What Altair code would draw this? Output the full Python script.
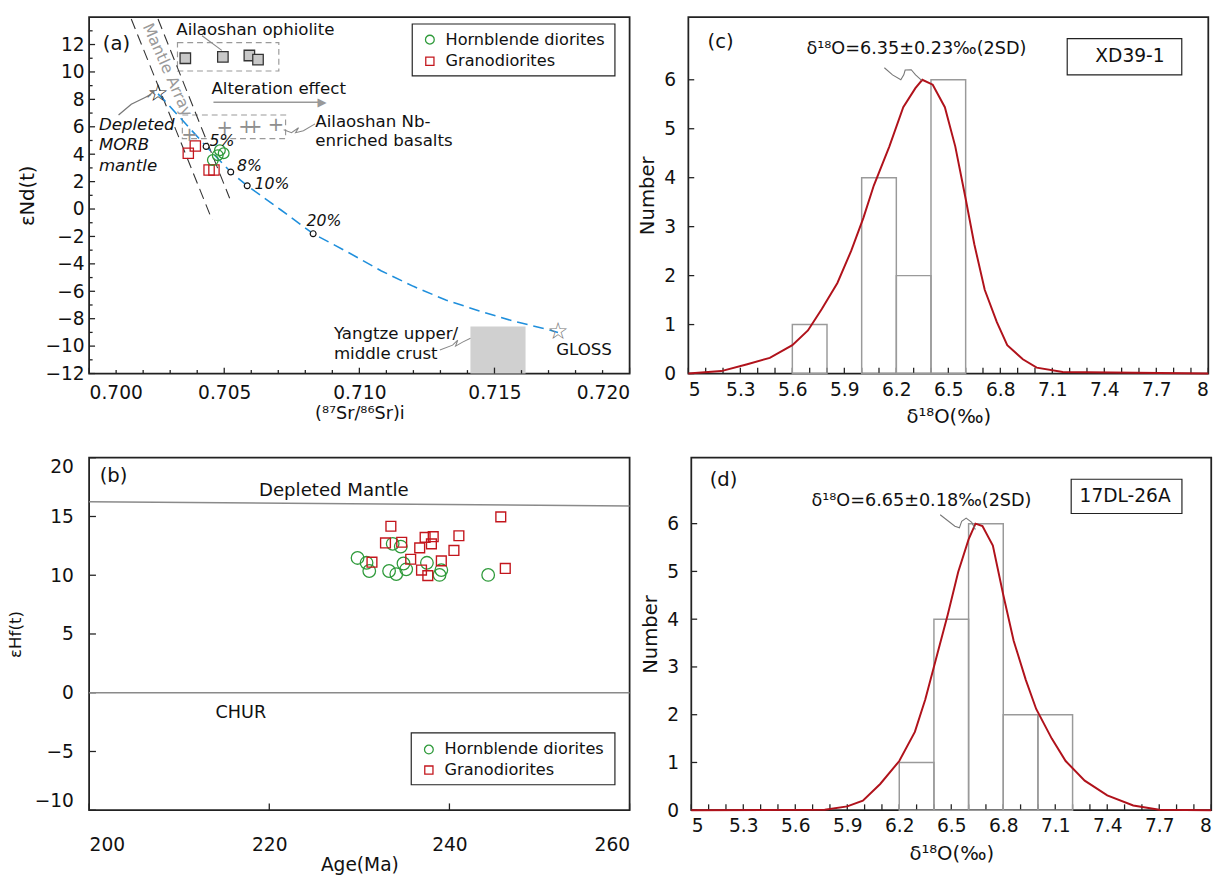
import altair as alt
import pandas as pd

FONT = "DejaVu Sans"
RED = "#c3161d"
GREEN = "#2e9a3a"
CURVE_RED = "#b0121b"
BLUE = "#1f8fdc"
GREY = "#8f8f8f"
INK = "#111111"

# ---------------- Panel (a): (87Sr/86Sr)i vs eNd(t) ----------------
a_xmajor = [0.700, 0.705, 0.710, 0.715, 0.720]
a_xminor = [0.701, 0.702, 0.703, 0.704, 0.706, 0.707, 0.708, 0.709, 0.711, 0.712, 0.713,
            0.714, 0.716, 0.717, 0.718, 0.719]
a_ymajor = [-12, -10, -8, -6, -4, -2, 0, 2, 4, 6, 8, 10, 12]
a_yminor = [-11, -9, -7, -5, -3, -1, 1, 3, 5, 7, 9, 11, 13]
a_oph_x = [0.70356, 0.70495, 0.70593, 0.70625]
a_oph_y = [11.0, 11.1, 11.2, 10.9]
a_nb_x = [0.70371, 0.70502, 0.70582, 0.70611, 0.70691]
a_nb_y = [5.4, 5.9, 6.0, 6.0, 6.1]
a_gd_x = [0.70367, 0.70393, 0.70444, 0.70462]
a_gd_y = [4.07, 4.6, 2.85, 2.85]
a_hd_x = [0.70458, 0.70476, 0.70498, 0.70484]
a_hd_y = [3.57, 3.93, 4.07, 4.29]
a_mix_x = [0.70255, 0.70280, 0.70433, 0.70524, 0.70585, 0.70710, 0.70829, 0.70957,
           0.71080, 0.71200, 0.71320, 0.71444, 0.71564, 0.71710, 0.71735]
a_mix_y = [8.4, 7.9, 4.57, 2.70, 1.70, -0.07, -1.80, -3.14, -4.50, -5.64, -6.64,
           -7.43, -8.14, -8.86, -9.0]
a_mark_x = [0.70433, 0.70524, 0.70585, 0.70829]
a_mark_y = [4.57, 2.70, 1.70, -1.80]
a_dmm_x, a_dmm_y = [0.70255], [8.4]
a_gloss_x, a_gloss_y = [0.71735], [-9.0]
a_ml_x = [0.70156, 0.70455]
a_ml_y = [13.86, -0.79]
a_mr_x = [0.70255, 0.70520]
a_mr_y = [13.86, 0.79]
a_crust_x = [0.71411, 0.71615]
a_crust_y = [-8.57, -12.0]
a_ell_x1 = [0.70327, 0.70345]
a_ell_x2 = [0.70702, 0.70727]
a_ell_y1 = [12.14, 6.86]
a_ell_y2 = [10.07, 5.14]
a_dmm_arrow_x = [0.70109, 0.70156, 0.70207, 0.70229]
a_dmm_arrow_y = [6.86, 7.64, 8.14, 8.36]
a_oph_lead_x = [0.70418, 0.70491]
a_oph_lead_y = [12.64, 11.57]
a_nb_lead_x = [0.70720, 0.70749, 0.70775, 0.70764, 0.70793, 0.70836]
a_nb_lead_y = [5.786, 5.571, 5.929, 5.571, 5.714, 6.214]
a_yz_lead_x = [0.71298, 0.71345, 0.71364, 0.71356, 0.71382, 0.71411]
a_yz_lead_y = [-10.29, -9.93, -9.57, -10.0, -9.71, -9.43]
a_alt_x, a_alt_x2, a_alt_y = 0.704601, 0.708500, 7.786
a_lbl_t = ["Ailaoshan ophiolite", "Alteration effect", "Ailaoshan Nb-", "enriched basalts",
           "Yangtze upper/", "middle crust", "GLOSS"]
a_lbl_x = [0.703225, 0.704529, 0.708370, 0.708370, 0.709058, 0.709058, 0.717283]
a_lbl_y = [13.07, 8.714, 6.357, 4.929, -9.143, -10.571, -10.286]
a_it_t = ["Depleted", "MORB", "mantle"]
a_it_x = [0.700362, 0.700362, 0.700362]
a_it_y = [6.143, 4.643, 3.143]
a_pct_t = ["5%", "8%", "10%", "20%"]
a_pct_x = [0.704457, 0.705471, 0.706123, 0.708043]
a_pct_y = [4.929, 3.143, 1.786, -0.857]

# ---------------- Panel (b): Age vs eHf(t) ----------------
b_xticks = [200, 220, 240, 260]
b_yticks = [-10, -5, 0, 5, 10, 15, 20]
b_hd_age = [229.8, 230.8, 231.1, 233.3, 234.1, 233.7, 234.6, 234.9, 235.2, 237.5, 239.1, 238.9, 244.3]
b_hd_ehf = [11.47, 11.06, 10.36, 10.36, 10.10, 12.67, 12.44, 11.00, 10.50, 11.06, 10.44, 10.03, 10.03]
b_gd_age = [233.5, 245.7, 232.9, 234.7, 237.3, 238.2, 238.0, 236.7, 241.05, 240.5,
            231.4, 235.7, 239.1, 236.9, 237.6, 246.2]
b_gd_ehf = [14.17, 14.97, 12.75, 12.81, 13.22, 13.28, 12.67, 12.33, 13.36, 12.11,
            11.11, 11.36, 11.22, 10.44, 9.97, 10.58]
b_dm_age = [200, 260]
b_dm_ehf = [16.25, 15.9]
b_chur_age = [200, 260]
b_chur_ehf = [0, 0]

# ---------------- Panels (c), (d): d18O histograms ----------------
o_xlabels = [5.0, 5.3, 5.6, 5.9, 6.2, 6.5, 6.8, 7.1, 7.4, 7.7, 8.0]
o_xticks = [round(5 + 0.1 * i, 1) for i in range(31)]
o_yticks = [0, 1, 2, 3, 4, 5, 6]
c_bin_lo = [5.6, 6.0, 6.2, 6.4]
c_bin_hi = [5.8, 6.2, 6.4, 6.6]
c_count = [1, 4, 2, 6]
c_curve_x = [5.0, 5.19, 5.34, 5.47, 5.60, 5.69, 5.77, 5.86, 5.94, 6.01, 6.07, 6.16, 6.24,
             6.31, 6.35, 6.41, 6.48, 6.54, 6.60, 6.65, 6.71, 6.78, 6.84, 6.93, 7.01, 7.16, 8.0]
c_curve_y = [0.0, 0.05, 0.19, 0.32, 0.58, 0.88, 1.32, 1.85, 2.51, 3.18, 3.84, 4.64, 5.44,
             5.83, 6.0, 5.9, 5.44, 4.64, 3.57, 2.64, 1.71, 1.05, 0.58, 0.29, 0.12, 0.03, 0.0]
c_lead_x = [6.131, 6.178, 6.226, 6.243, 6.251, 6.286, 6.311, 6.346]
c_lead_y = [6.246, 6.100, 6.000, 6.100, 6.199, 6.206, 6.100, 5.987]

d_bin_lo = [6.2, 6.4, 6.6, 6.8, 7.0]
d_bin_hi = [6.4, 6.6, 6.8, 7.0, 7.2]
d_count = [1, 4, 6, 2, 2]
d_curve_x = [5.0, 5.77, 5.90, 5.99, 6.09, 6.20, 6.29, 6.35, 6.41, 6.48, 6.54, 6.60, 6.64,
             6.68, 6.74, 6.80, 6.86, 6.93, 6.99, 7.08, 7.16, 7.27, 7.40, 7.55, 7.70, 8.0]
d_curve_y = [0.0, 0.01, 0.08, 0.20, 0.55, 1.03, 1.64, 2.32, 3.14, 4.10, 4.99, 5.67, 6.0,
             5.95, 5.54, 4.51, 3.55, 2.73, 2.12, 1.50, 1.03, 0.62, 0.31, 0.10, 0.01, 0.0]
d_lead_x = [6.436, 6.521, 6.547, 6.560, 6.586, 6.618, 6.639]
d_lead_y = [6.186, 5.947, 5.913, 6.049, 6.117, 6.029, 5.879]

LEGEND_T = ["Hornblende diorites", "Granodiorites"]


# ---------------- helpers ----------------
def rule_layer(X, Y, segs):
    df = pd.DataFrame(segs, columns=["x", "x2", "y", "y2", "c", "w"])
    return alt.Chart(df).mark_rule().encode(
        x=X, x2="x2:Q", y=Y, y2="y2:Q",
        stroke=alt.Stroke("c:N", scale=None), strokeWidth=alt.StrokeWidth("w:Q", scale=None))


def ticks_x(vals, y0, y1, w=1.3):
    return [(v, v, y0, y1, "#222", w) for v in vals]


def ticks_y(vals, x0, x1, w=1.3):
    return [(x0, x1, v, v, "#222", w) for v in vals]


def line_layer(X, Y, series, dash=None):
    rows = []
    for g, (xs, ys, c, w) in enumerate(series):
        for i, (a, b) in enumerate(zip(xs, ys)):
            rows.append((g, i, a, b, c, w))
    df = pd.DataFrame(rows, columns=["g", "i", "x", "y", "c", "w"])
    kw = {} if dash is None else {"strokeDash": dash}
    return alt.Chart(df).mark_line(**kw).encode(
        x=X, y=Y, detail="g:N", order="i:Q",
        stroke=alt.Stroke("c:N", scale=None), strokeWidth=alt.StrokeWidth("w:Q", scale=None))


def point_layer(X, Y, groups):
    rows = []
    for xs, ys, shp, sz, fl, st, w in groups:
        for a, b in zip(xs, ys):
            rows.append((a, b, shp, sz, fl, st, w))
    df = pd.DataFrame(rows, columns=["x", "y", "shp", "sz", "fl", "st", "w"])
    return alt.Chart(df).mark_point(filled=False, opacity=1).encode(
        x=X, y=Y, shape=alt.Shape("shp:N", scale=None), size=alt.Size("sz:Q", scale=None),
        fill=alt.Fill("fl:N", scale=None), stroke=alt.Stroke("st:N", scale=None),
        strokeWidth=alt.StrokeWidth("w:Q", scale=None))


def text_layer(X, Y, items, align="left", style="normal"):
    df = pd.DataFrame(items, columns=["x", "y", "t", "sz", "c"])
    return alt.Chart(df).mark_text(font=FONT, align=align, baseline="middle",
                                   fontStyle=style).encode(
        x=X, y=Y, text="t:N", size=alt.Size("sz:Q", scale=None),
        color=alt.Color("c:N", scale=None))


def rect_layer(X, Y, x1, x2, y1, y2, **kw):
    df = pd.DataFrame({"x": x1, "x2": x2, "y": y1, "y2": y2})
    return alt.Chart(df).mark_rect(**kw).encode(x=X, x2="x2:Q", y=Y, y2="y2:Q")


LBL = dict(labelFont=FONT, labelFontSize=19, labelColor=INK, titleFont=FONT,
           titleColor=INK, titleFontWeight="normal", domain=False, grid=False, ticks=False)
BOX = dict(fill="white", stroke="#222", strokeWidth=1.2)

# ---------- (a) ----------
xa = alt.X("x:Q", scale=alt.Scale(domain=[0.700, 0.720], nice=False, zero=False),
           axis=alt.Axis(values=a_xmajor, title="(⁸⁷Sr/⁸⁶Sr)i", titleFontSize=18, format=".3f",
                         labelPadding=11, labelFlush=True, titlePadding=2, **LBL))
ya = alt.Y("y:Q", scale=alt.Scale(domain=[-12, 14], nice=False, zero=False),
           axis=alt.Axis(values=a_ymajor, title="εNd(t)", titleFontSize=20, format="d",
                         labelPadding=5, titlePadding=8, **LBL))

a_rules = (ticks_x(a_xmajor, -12, -11.57) + ticks_x(a_xminor, -12, -11.75)
           + ticks_y(a_ymajor, 0.700, 0.70022) + ticks_y(a_yminor, 0.700, 0.70013)
           + [(a_alt_x, a_alt_x2, a_alt_y, a_alt_y, "#999999", 1.5)])
a_points = [
    (a_mark_x, a_mark_y, "circle", 36, "white", INK, 1.2),
    (a_oph_x, a_oph_y, "square", 115, "#c8c8c8", "#333333", 1.3),
    (a_gd_x, a_gd_y, "square", 110, "transparent", RED, 1.3),
    (a_hd_x, a_hd_y, "circle", 120, "transparent", GREEN, 1.3),
    ([0.712609], [12.357], "circle", 80, "transparent", GREEN, 1.3),
    ([0.712609], [10.786], "square", 70, "transparent", RED, 1.3),
]
a_text_left = ([(x, y, t, 17, INK) for x, y, t in zip(a_lbl_x, a_lbl_y, a_lbl_t)]
               + [(0.713188, 12.357, LEGEND_T[0], 16.5, INK),
                  (0.713188, 10.786, LEGEND_T[1], 16.5, INK)])
a_text_center = ([(0.701014, 12.0, "(a)", 20, INK),
                  (a_dmm_x[0], a_dmm_y[0], "☆", 24, "#222222"),
                  (a_gloss_x[0], a_gloss_y[0], "☆", 24, "#777777"),
                  (a_alt_x2 + 0.00012, a_alt_y, "▶", 12, "#999999"),
                  (a_dmm_arrow_x[-1], a_dmm_arrow_y[-1], "➚", 14, "#777777")]
                 + [(x, y, "+", 20, GREY) for x, y in zip(a_nb_x, a_nb_y)])
a_text_italic = ([(x, y, t, 17, INK) for x, y, t in zip(a_it_x, a_it_y, a_it_t)]
                 + [(x, y, t, 16, INK) for x, y, t in zip(a_pct_x, a_pct_y, a_pct_t)])

panel_a = alt.layer(
    rect_layer(xa, ya, [a_crust_x[0]], [a_crust_x[1]], [a_crust_y[0]], [a_crust_y[1]],
               color="#d0d0d0"),
    rect_layer(xa, ya, a_ell_x1, a_ell_x2, a_ell_y1, a_ell_y2,
               fill="transparent", stroke="#9a9a9a", strokeDash=[6, 4], strokeWidth=1.2),
    rect_layer(xa, ya, [0.711957], [0.719457], [13.5], [9.714], **BOX),
    rule_layer(xa, ya, a_rules),
    line_layer(xa, ya, [(a_ml_x, a_ml_y, "#333333", 1.1), (a_mr_x, a_mr_y, "#333333", 1.1),
                        (a_mix_x, a_mix_y, BLUE, 1.6)], dash=[11, 6]),
    line_layer(xa, ya, [(a_dmm_arrow_x, a_dmm_arrow_y, "#777777", 1.3),
                        (a_oph_lead_x, a_oph_lead_y, "#888888", 1.1),
                        (a_nb_lead_x, a_nb_lead_y, "#888888", 1.1),
                        (a_yz_lead_x, a_yz_lead_y, "#888888", 1.1)]),
    point_layer(xa, ya, a_points),
    text_layer(xa, ya, a_text_left),
    text_layer(xa, ya, a_text_center, align="center"),
    text_layer(xa, ya, a_text_italic, style="italic"),
    alt.Chart(pd.DataFrame({"x": [0.702899], "y": [10.143], "t": ["Mantle Array"]}))
    .mark_text(font=FONT, fontSize=16, color="#999999", align="center", baseline="middle",
               angle=66).encode(x=xa, y=ya, text="t:N"),
).properties(width=552, height=364)

# ---------- (b) ----------
xb = alt.X("x:Q", scale=alt.Scale(domain=[200, 260], nice=False, zero=False),
           axis=alt.Axis(values=b_xticks, title="Age(Ma)", titleFontSize=19, format="d",
                         labelPadding=26, labelFlush=True, titlePadding=2, **LBL))
yb = alt.Y("y:Q", scale=alt.Scale(domain=[-10, 20], nice=False, zero=False),
           axis=alt.Axis(values=b_yticks, title="εHf(t)", titleFontSize=17, format="d",
                         labelPadding=16, labelFlush=True, titlePadding=10, **LBL))
panel_b = alt.layer(
    rect_layer(xb, yb, [235.761], [258.370], [-3.417], [-7.833], **BOX),
    rule_layer(xb, yb, ticks_x(b_xticks, -10, -9.42) + ticks_y(b_yticks, 200, 200.76)),
    line_layer(xb, yb, [(b_dm_age, b_dm_ehf, "#8a8a8a", 1.6),
                        (b_chur_age, b_chur_ehf, "#8a8a8a", 1.6)]),
    point_layer(xb, yb, [
        (b_hd_age, b_hd_ehf, "circle", 165, "transparent", GREEN, 1.3),
        (b_gd_age, b_gd_ehf, "square", 100, "transparent", RED, 1.4),
        ([237.717], [-4.833], "circle", 80, "transparent", GREEN, 1.3),
        ([237.717], [-6.583], "square", 70, "transparent", RED, 1.3),
    ]),
    text_layer(xb, yb, [(239.457, -4.833, LEGEND_T[0], 16.5, INK),
                        (239.457, -6.583, LEGEND_T[1], 16.5, INK)]),
    text_layer(xb, yb, [(202.717, 18.417, "(b)", 20, INK),
                        (227.174, 17.25, "Depleted Mantle", 18.5, INK),
                        (216.848, -1.75, "CHUR", 18, INK)], align="center"),
).properties(width=552, height=360)


# ---------- (c) & (d) ----------
def hist_panel(lo, hi, cnt, cx, cy, lx, ly, ytop, h, tag, stat, sample, pos):
    ppx = ytop / h
    X = alt.X("x:Q", scale=alt.Scale(domain=[5, 8], nice=False, zero=False),
              axis=alt.Axis(values=o_xlabels, title="δ¹⁸O(‰)", titleFontSize=20, format="~g",
                            labelPadding=7, titlePadding=8, **LBL))
    Y = alt.Y("y:Q", scale=alt.Scale(domain=[0, ytop], nice=False, zero=False),
              axis=alt.Axis(values=o_yticks, title="Number", titleFontSize=20, format="d",
                            labelPadding=13, titlePadding=6, **LBL))
    (tx, ty), (sx_, sy_), (bx1, bx2, by1, by2), (kx, ky) = pos
    return alt.layer(
        rule_layer(X, Y, ticks_x(o_xticks, 0, 6 * ppx) + ticks_y(o_yticks, 5, 5 + 6 / 177)),
        rect_layer(X, Y, lo, hi, cnt, [0] * len(cnt), fill="transparent", stroke="#9a9a9a",
                   strokeWidth=1.5),
        line_layer(X, Y, [(cx, cy, CURVE_RED, 2.0), (lx, ly, "#777777", 1.1)]),
        rect_layer(X, Y, [bx1], [bx2], [by1], [by2], **BOX),
        text_layer(X, Y, [(tx, ty, tag, 20, INK), (sx_, sy_, stat, 18, INK),
                          (kx, ky, sample, 19, INK)], align="center"),
    ).properties(width=531, height=h)


panel_c = hist_panel(c_bin_lo, c_bin_hi, c_count, c_curve_x, c_curve_y, c_lead_x, c_lead_y,
                     7.28, 364, "(c)", "δ¹⁸O=6.35±0.23‰(2SD)", "XD39-1",
                     ((5.186, 6.76), (6.316, 6.62), (7.186, 7.847, 6.84, 6.10), (7.548, 6.48)))
panel_d = hist_panel(d_bin_lo, d_bin_hi, d_count, d_curve_x, d_curve_y, d_lead_x, d_lead_y,
                     7.38, 360, "(d)", "δ¹⁸O=6.65±0.18‰(2SD)", "17DL-26A",
                     ((5.186, 6.91), (6.328, 6.48), (7.192, 7.831, 6.929, 6.212), (7.503, 6.58)))

chart = alt.vconcat(
    alt.hconcat(panel_a, panel_c, spacing=6),
    alt.hconcat(panel_b, panel_d, spacing=6),
    spacing=29,
).properties(padding=6).configure_view(stroke="#222", strokeWidth=1.8)

chart.save("out.html", embed_options={"renderer": "svg", "actions": False})
